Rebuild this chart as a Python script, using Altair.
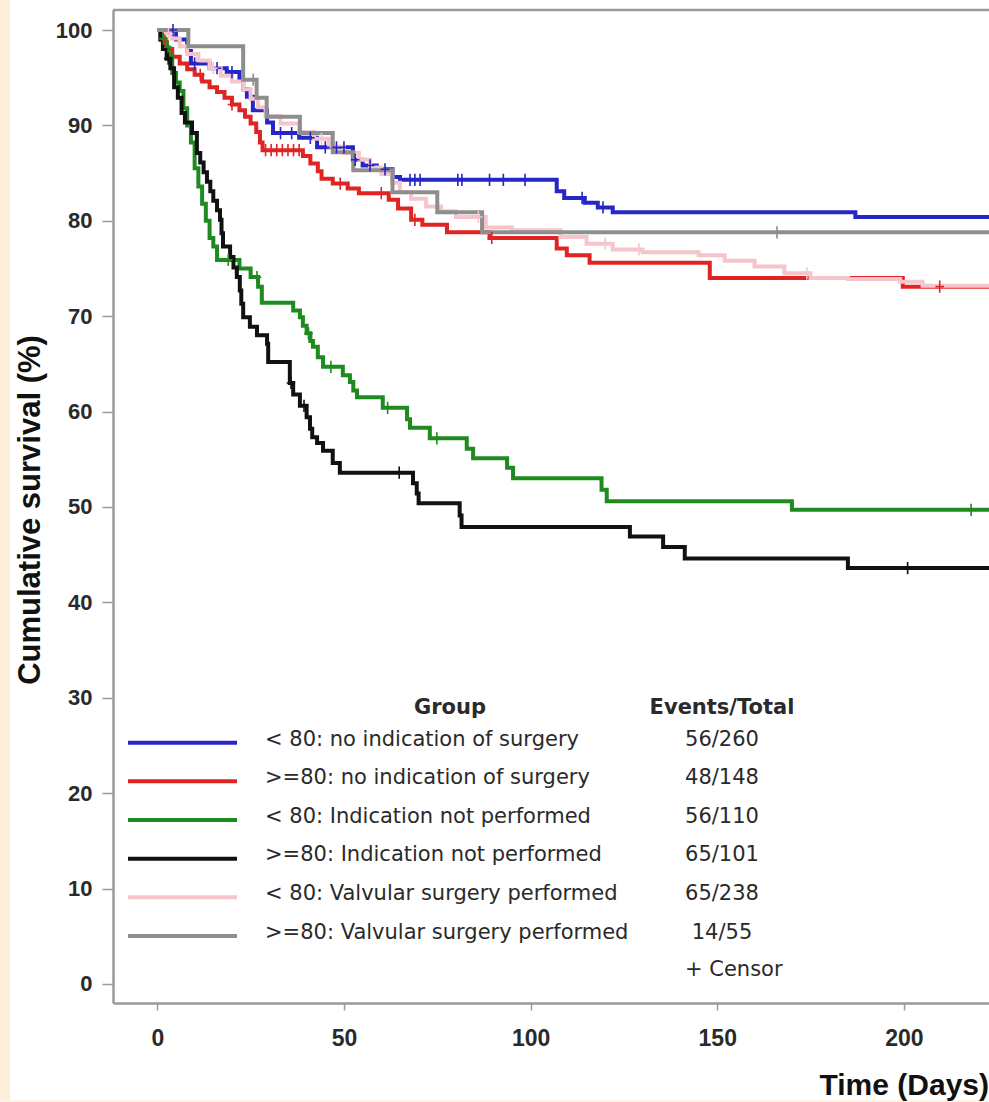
import altair as alt
import pandas as pd

# ---- groups, summary counts and colours ----
GROUPS = [
    "< 80: no indication of surgery",
    ">=80: no indication of surgery",
    "< 80: Indication not performed",
    ">=80: Indication not performed",
    "< 80: Valvular surgery performed",
    ">=80: Valvular surgery performed",
]
EVENTS = ["56/260", "48/148", "56/110", "65/101", "65/238", "14/55"]
COLORS = ["#2626c8", "#e02424", "#1f8a1f", "#111111", "#f6c4cd", "#8e8e8e"]

# ---- Kaplan-Meier steps: time (days) and survival (%) from that time on ----
BLUE_T = [0, 5, 8, 9, 14, 18.6, 22, 23, 24, 25.6, 29.4, 31, 38, 42.8, 52.4, 55, 58.8, 63, 65,
          107, 109, 114.5, 118, 122, 187]
BLUE_S = [100, 99.0, 97.8, 96.5, 96.0, 95.6, 94.8, 93.8, 93.0, 91.6, 90.3, 89.2, 88.7, 87.7, 86.4,
          85.8, 85.4, 84.6, 84.3, 83.1, 82.4, 81.9, 81.4, 80.9, 80.4]

RED_T = [0, 1, 2.5, 4, 6, 8, 10, 12, 14, 16, 18, 20, 22, 23.5, 25, 26.5, 27.5, 28.2, 39, 41, 43,
         44, 47, 51, 54, 62, 64.5, 68, 71, 77.6, 89, 107, 109.7, 115.8, 148, 199.7]
RED_S = [100, 99.0, 98.0, 97.2, 96.5, 95.9, 95.3, 94.6, 94.0, 93.5, 92.9, 92.2, 91.6, 90.9, 90.2,
         89.3, 88.2, 87.4, 86.8, 86.0, 85.2, 84.4, 83.9, 83.4, 82.9, 82.2, 81.3, 80.1, 79.6, 78.8,
         78.2, 77.1, 76.4, 75.6, 74.0, 73.1]

GREEN_T = [0, 1, 2, 3, 4, 5, 6, 7, 8, 9, 10, 11, 12, 13, 14, 15, 16, 22, 25, 27, 28, 36.4, 38.2,
           39, 40, 41, 41.7, 43, 44.4, 49.7, 51.6, 52.5, 53.5, 60.4, 66.9, 67.7, 73, 82.9, 84.6,
           93.7, 95.3, 119, 120.4, 170]
GREEN_S = [100, 99.1, 98.2, 97.3, 95.5, 94.5, 93.6, 91.8, 90.0, 88.2, 85.5, 83.6, 81.8, 80.0, 78.2,
           77.3, 75.9, 75.0, 74.1, 73.1, 71.4, 70.6, 69.9, 69.0, 68.2, 67.4, 66.8, 65.7, 64.7, 63.8,
           63.1, 62.2, 61.5, 60.4, 59.2, 58.3, 57.2, 56.1, 55.1, 54.1, 53.0, 51.8, 50.6, 49.7]

BLACK_T = [0, 0.8, 1.5, 2.5, 3.5, 4.5, 5.5, 6.5, 7.4, 9.3, 10.6, 11.5, 12.4, 13.3, 14.2, 15, 16,
           16.8, 17.2, 17.6, 19.5, 20.4, 21.3, 22.1, 22.5, 23, 24.8, 26.7, 29.4, 29.7, 35.5, 36.4,
           38.2, 40, 40.9, 41.5, 42.8, 44.4, 47, 48.9, 68.5, 69.5, 70, 81, 81.5, 126.6, 135.5,
           141.3, 185]
BLACK_S = [100, 99.0, 98.0, 97.0, 96.0, 94.0, 92.9, 91.3, 90.3, 89.2, 87.1, 86.1, 85.1, 84.1, 83.1,
           82.1, 81.1, 80.1, 78.7, 77.3, 76.2, 75.1, 74.1, 72.7, 71.3, 69.9, 68.9, 68.0, 67.1, 65.2,
           63.0, 61.8, 60.6, 59.4, 58.2, 57.3, 56.7, 55.9, 54.6, 53.6, 52.5, 51.4, 50.4, 49.1, 47.9,
           46.9, 45.8, 44.6, 43.6]

PINK_T = [0, 2, 4, 6, 8, 11, 14, 17, 20, 23, 25, 27, 29, 33, 38, 42, 46, 50, 54, 57, 60, 63, 65,
          68, 72, 76, 80, 88, 95, 108, 115, 122, 130, 145, 152, 160, 168, 175, 185, 199, 205]
PINK_S = [100, 99.6, 99.1, 98.3, 97.5, 96.8, 96.0, 95.2, 94.6, 93.8, 92.8, 91.9, 91.0, 90.2, 89.3,
          88.6, 87.8, 87.1, 86.4, 85.6, 84.9, 84.0, 83.0, 82.3, 81.5, 81.0, 80.4, 79.3, 79.0, 78.3,
          77.6, 77.0, 76.7, 76.4, 75.8, 75.2, 74.5, 74.0, 73.9, 73.6, 73.2]

GRAY_T = [0, 8.3, 23, 26.6, 29.3, 38.2, 47, 52.5, 63, 75, 87]
GRAY_S = [100, 98.3, 94.8, 92.9, 90.9, 89.2, 87.2, 85.3, 83.0, 80.9, 78.8]

# ---- censoring times (days) ----
BLUE_C = [4.2, 10, 16, 20, 33, 36, 41, 45, 48, 50, 53, 57, 61, 67.7, 69, 70.4, 80.5, 81.6, 89,
          92.7, 98.5, 113.8, 119.4]
RED_C = [2, 11.5, 20, 29, 30.5, 32, 33.5, 35, 36.5, 38, 49, 60, 69, 89.6, 209.6]
GREEN_C = [1.6, 2.9, 19, 26.7, 40.5, 46.5, 61.7, 74.9, 218]
BLACK_C = [2.9, 35.8, 39.3, 64.8, 201]
PINK_C = [3, 15, 44, 86, 120, 129, 174]
GRAY_C = [25.7, 166]

STEP_T = [BLUE_T, RED_T, GREEN_T, BLACK_T, PINK_T, GRAY_T]
STEP_S = [BLUE_S, RED_S, GREEN_S, BLACK_S, PINK_S, GRAY_S]
CENSOR = [BLUE_C, RED_C, GREEN_C, BLACK_C, PINK_C, GRAY_C]

X_MIN, X_MAX = -11.87, 222.8
Y_MIN, Y_MAX = -2.0, 102.1
END_T = 230

W, H = 876, 993


def surv_at(ts, ss, t):
    val = ss[0]
    for ti, si in zip(ts, ss):
        if ti <= t:
            val = si
    return val


color_scale = alt.Scale(domain=GROUPS, range=COLORS)
x_scale = alt.Scale(domain=[X_MIN, X_MAX], nice=False, zero=False)
y_scale = alt.Scale(domain=[Y_MIN, Y_MAX], nice=False, zero=False)

x_axis = alt.Axis(values=[0, 50, 100, 150, 200], title=None, grid=False,
                  labelFont="Liberation Sans", labelFontWeight="bold", labelFontSize=23,
                  labelColor="#2a2a2a", labelPadding=17, tickSize=7, tickWidth=1.5,
                  tickColor="#9a9a9a", domainColor="#9a9a9a", domainWidth=2.5)
y_axis = alt.Axis(values=list(range(0, 101, 10)), title=None, grid=False,
                  labelFont="Liberation Sans", labelFontWeight="bold", labelFontSize=22,
                  labelColor="#2a2a2a", labelPadding=10, tickSize=11, tickWidth=1.5,
                  tickColor="#9a9a9a", domainColor="#9a9a9a", domainWidth=2.5)

layers = []

# decorative pale strip on the left and bottom edge
layers.append(alt.Chart(pd.DataFrame({"a": [0]})).mark_rect(color="#fcefd8").encode(
    x=alt.value(-113), x2=alt.value(-103), y=alt.value(-10), y2=alt.value(1092)))
layers.append(alt.Chart(pd.DataFrame({"a": [0]})).mark_rect(color="#fdf3e4").encode(
    x=alt.value(-113), x2=alt.value(W), y=alt.value(1090), y2=alt.value(1092)))

# frame top edge
layers.append(alt.Chart(pd.DataFrame({"a": [0]})).mark_rule(color="#9a9a9a", strokeWidth=2.5).encode(
    x=alt.value(0), x2=alt.value(W), y=alt.value(0)))

# survival curves
for g, ts, ss in zip(GROUPS, STEP_T, STEP_S):
    df = pd.DataFrame({"t": list(ts) + [END_T], "s": list(ss) + [ss[-1]], "group": g})
    layers.append(alt.Chart(df).mark_line(interpolate="step-after", strokeWidth=4, clip=True).encode(
        x=alt.X("t:Q", scale=x_scale, axis=x_axis),
        y=alt.Y("s:Q", scale=y_scale, axis=y_axis),
        color=alt.Color("group:N", scale=color_scale, legend=None),
        order="t:Q"))

# censor marks
rows = []
for g, ts, ss, cs in zip(GROUPS, STEP_T, STEP_S, CENSOR):
    for c in cs:
        rows.append({"t": c, "s": surv_at(ts, ss, c), "group": g})
cens = pd.DataFrame(rows)
layers.append(alt.Chart(cens).mark_point(shape="M0,-1L0,1M-0.7,0L0.7,0", filled=False,
                                         strokeWidth=1.6, size=150, opacity=1, clip=True).encode(
    x=alt.X("t:Q", scale=x_scale),
    y=alt.Y("s:Q", scale=y_scale),
    color=alt.Color("group:N", scale=color_scale, legend=None)))

# legend table drawn inside the plot
leg = pd.DataFrame({"group": GROUPS, "events": EVENTS, "i": list(range(len(GROUPS)))})
leg_base = alt.Chart(leg).transform_calculate(
    ly="732.7 + datum.i * 38.66", ty="729.5 + datum.i * 38.66")
layers.append(leg_base.mark_rule(strokeWidth=4).encode(
    x=alt.value(15), x2=alt.value(124),
    y=alt.Y("ly:Q", scale=None),
    color=alt.Color("group:N", scale=color_scale, legend=None)))
layers.append(leg_base.mark_text(align="left", baseline="middle", font="DejaVu Sans",
                                 fontSize=21, color="#2a2a2a").encode(
    x=alt.value(152), y=alt.Y("ty:Q", scale=None), text="group:N"))
layers.append(leg_base.mark_text(align="center", baseline="middle", font="DejaVu Sans",
                                 fontSize=21, color="#2a2a2a").encode(
    x=alt.value(609), y=alt.Y("ty:Q", scale=None), text="events:N"))

head = pd.DataFrame({"label": ["Group", "Events/Total"], "px": [337, 609]})
layers.append(alt.Chart(head).mark_text(align="center", baseline="middle", font="DejaVu Sans",
                                        fontWeight="bold", fontSize=21, color="#2a2a2a").encode(
    x=alt.X("px:Q", scale=None), y=alt.value(698), text="label:N"))
layers.append(alt.Chart(pd.DataFrame({"label": ["+  Censor"]})).mark_text(
    align="left", baseline="middle", font="DejaVu Sans", fontSize=21, color="#2a2a2a").encode(
    x=alt.value(572), y=alt.value(960), text="label:N"))

# axis titles
layers.append(alt.Chart(pd.DataFrame({"label": ["Time (Days)"]})).mark_text(
    align="right", baseline="alphabetic", font="Liberation Sans", fontWeight="bold",
    fontSize=30, color="#111111").encode(x=alt.value(W), y=alt.value(1085), text="label:N"))
layers.append(alt.Chart(pd.DataFrame({"label": ["Cumulative survival (%)"]})).mark_text(
    align="center", baseline="middle", font="Liberation Sans", fontWeight="bold",
    fontSize=31, color="#111111", angle=270).encode(x=alt.value(-82), y=alt.value(500),
                                                   text="label:N"))

chart = alt.layer(*layers).properties(
    width=W, height=H,
    padding={"left": 113, "top": 10, "right": 0, "bottom": 99},
    autosize=alt.AutoSizeParams(type="none"),
    background="white",
).configure_view(stroke=None)

chart.save("out.html", embed_options={"renderer": "svg", "actions": False})
